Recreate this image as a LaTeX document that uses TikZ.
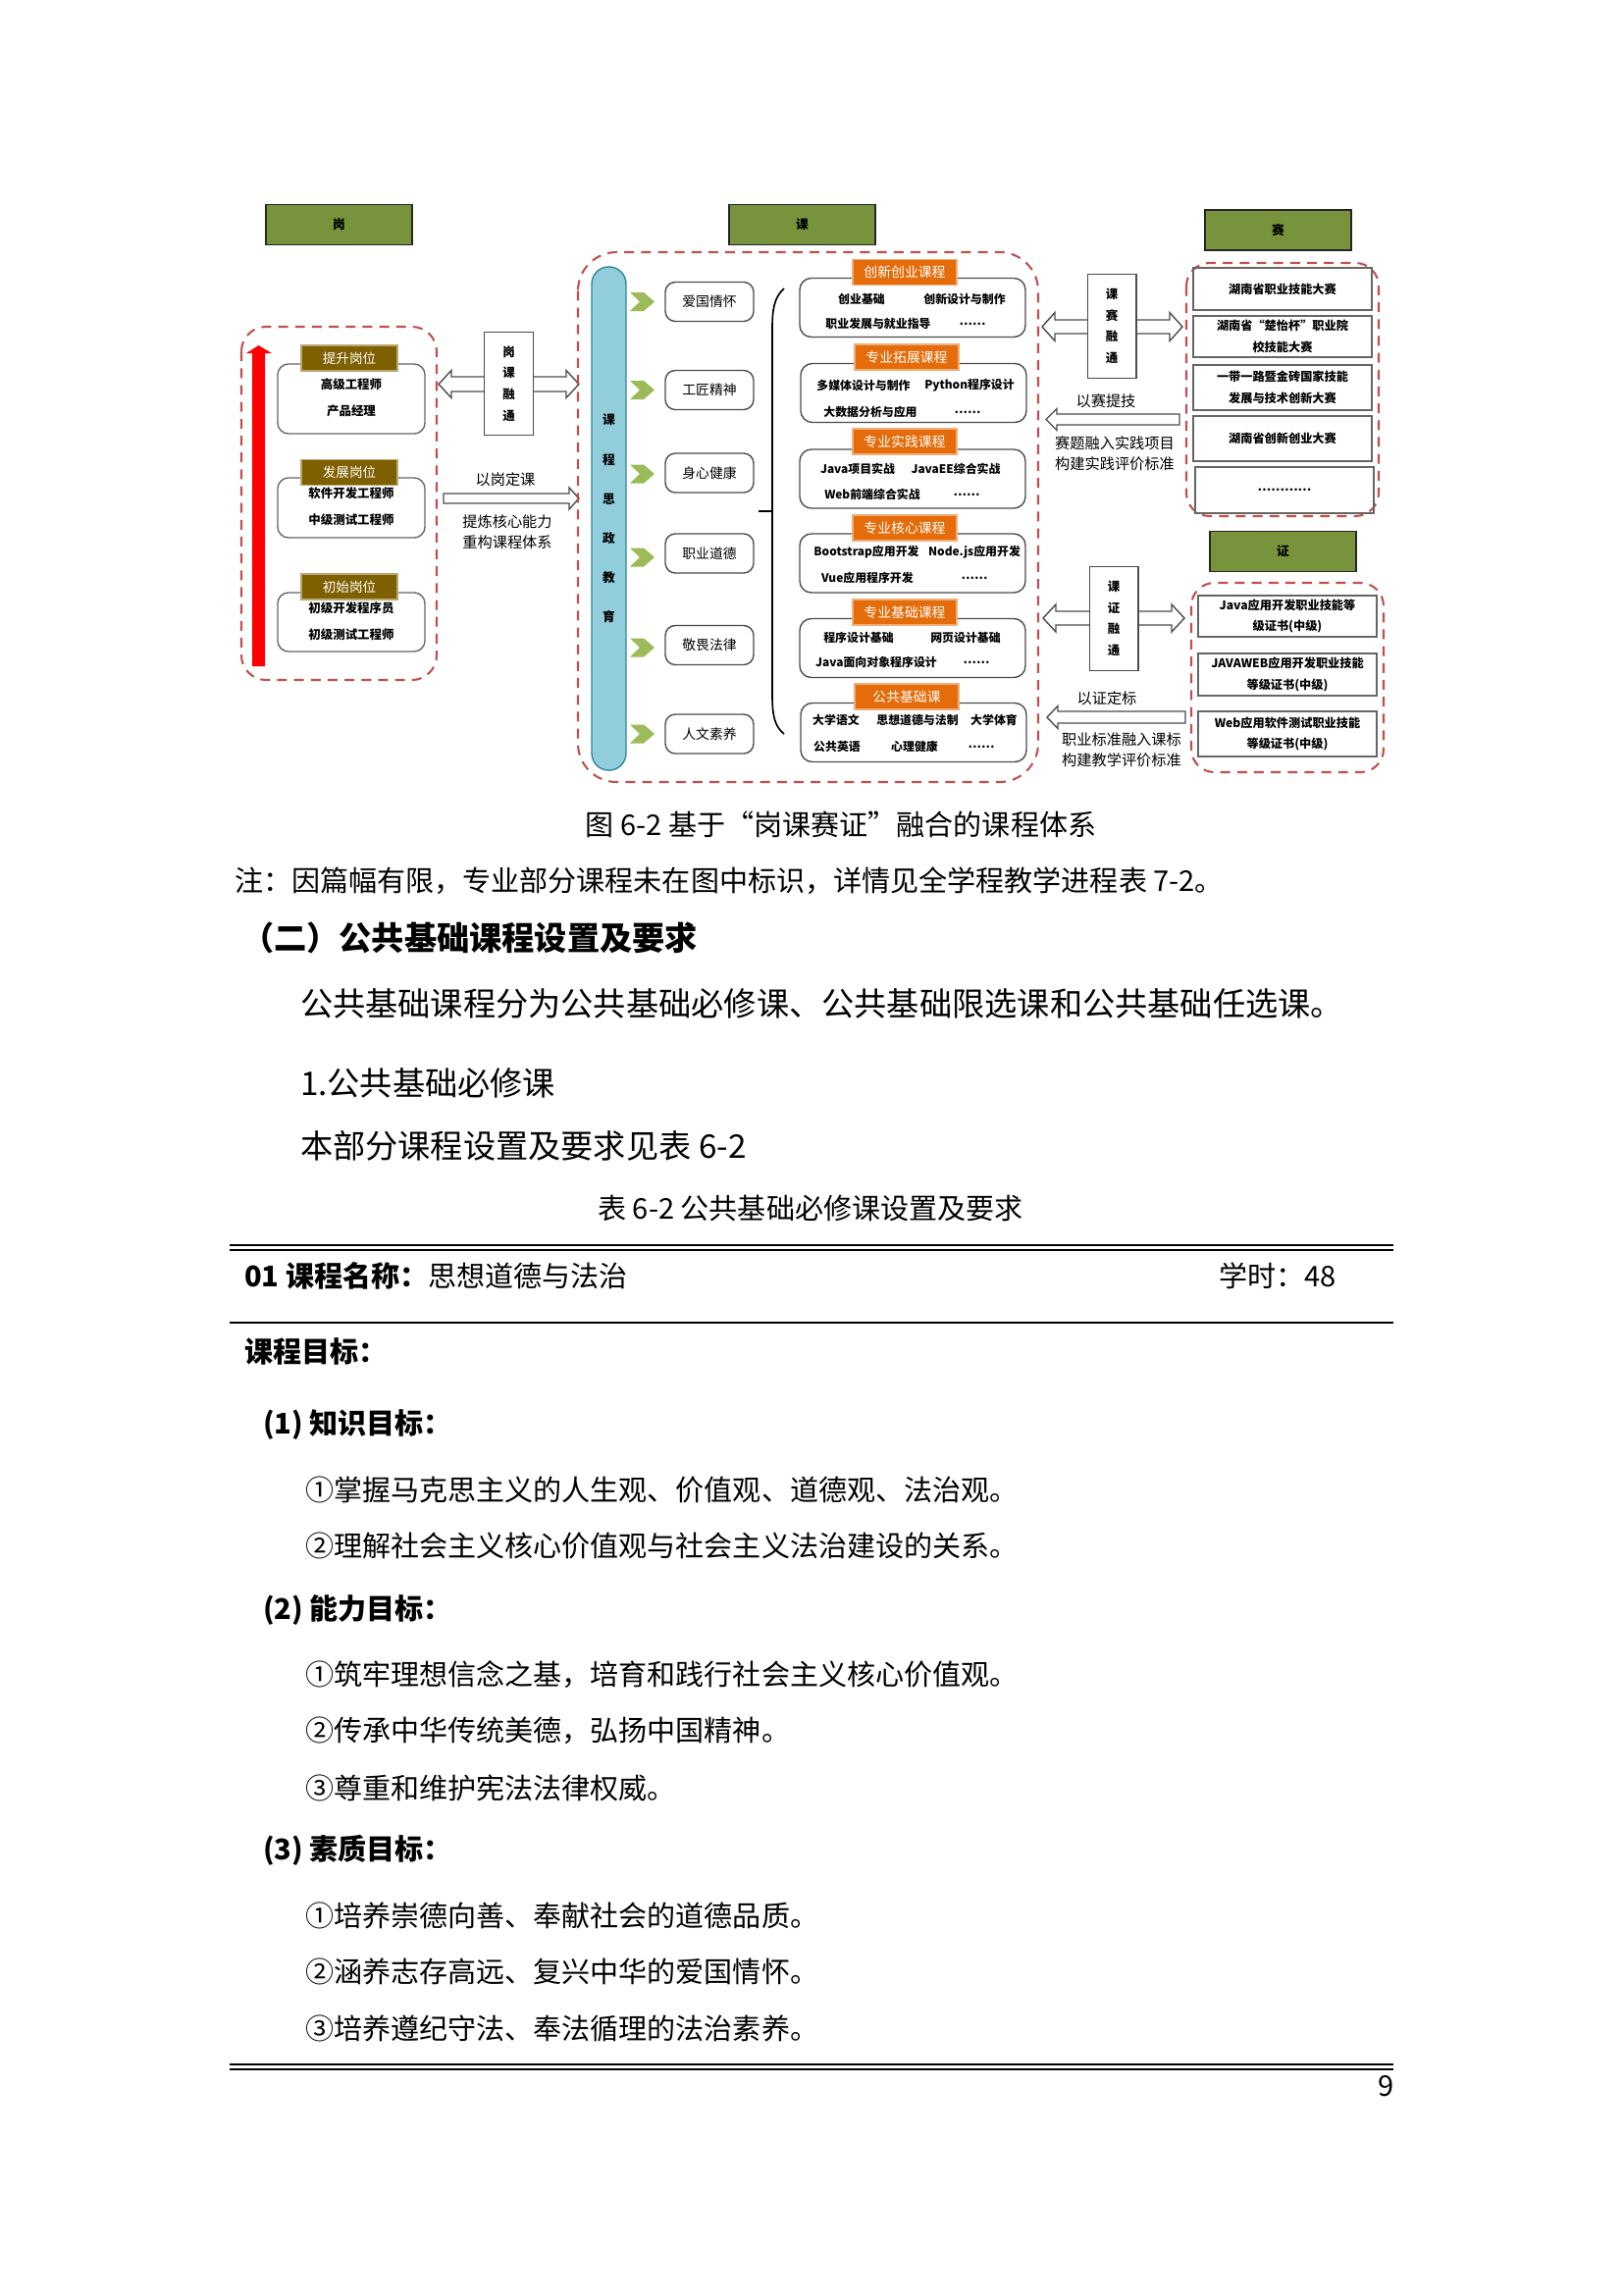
\documentclass[tikz,border=0pt]{standalone}
\usepackage{fontspec}
\setmainfont{Noto Sans CJK SC}

\definecolor{hdrgreen}{HTML}{77933C}
\definecolor{tagbrown}{HTML}{7F6000}
\definecolor{tagorange}{HTML}{E46C0A}
\definecolor{dashred}{HTML}{C0504D}
\definecolor{pillblue}{HTML}{92CDDC}
\definecolor{pillline}{HTML}{31859C}
\definecolor{chevgreen}{HTML}{9BBB59}

\begin{document}
\begin{tikzpicture}[x=0.126965mm,y=-0.126965mm,
  every node/.style={inner sep=0pt,outer sep=0pt},
  hdr/.style={draw=black!85,fill=hdrgreen,line width=0.5pt,minimum width=18.92mm,minimum height=5.2mm,font=\fontsize{4.6}{5}\selectfont\bfseries},
  dashbox/.style={draw=dashred,line width=0.75pt,dash pattern=on 3.6pt off 2.6pt},
  posbox/.style={draw=black!60,line width=0.5pt,rounded corners=1.4mm,minimum width=19.05mm,align=center,text depth=1.2pt,font=\fontsize{4.5}{9.7}\selectfont\bfseries},
  postag/.style={draw=tagbrown!55,fill=tagbrown,text=white,minimum width=12.45mm,minimum height=3.3mm,font=\fontsize{4.9}{5}\selectfont},
  crossbox/.style={draw=black!70,fill=white,line width=0.5pt,minimum width=6.3mm,minimum height=13.4mm,align=center,font=\fontsize{4.5}{7.8}\selectfont\bfseries},
  blockarrow/.style={draw=black!70,fill=white,line width=0.5pt},
  lbl/.style={align=center,font=\fontsize{5.5}{7.6}\selectfont},
  valbox/.style={draw=black!70,line width=0.5pt,rounded corners=1.3mm,minimum width=11.43mm,minimum height=5.08mm,font=\fontsize{5}{5}\selectfont},
  crsbox/.style={draw=black!70,line width=0.5pt,rounded corners=1.5mm,minimum width=29.2mm,minimum height=7.62mm},
  crstag/.style={draw=tagorange!55,fill=tagorange,text=white,minimum width=13.46mm,minimum height=3.3mm,font=\fontsize{5}{5}\selectfont},
  crs/.style={font=\fontsize{4.3}{5}\selectfont\bfseries},
  itembox/.style={draw=black!60,line width=0.5pt,minimum width=23.11mm,align=center,font=\fontsize{4.4}{7.8}\selectfont\bfseries},
  chev/.style={fill=chevgreen},
  body/.style={anchor=west,font=\fontsize{10.5}{12}\selectfont},
  bodyb/.style={anchor=west,font=\fontsize{10.5}{12}\selectfont\bfseries},
  big/.style={anchor=west,font=\fontsize{12}{14}\selectfont}]
\useasboundingbox[fill=white] (0,0) rectangle (1654,2339);

% ---- headers
\node[hdr] (gang) at (345.5,229) {岗};
\node[hdr] (ke) at (817.5,229) {课};
\node[hdr] (sai) at (1302.5,234.5) {赛};
\node[hdr] (zheng) at (1307.5,562) {证};

% ---- left part: positions
\draw[dashbox,rounded corners=3.2mm] (246,333) rectangle (445,693);
\fill[red] (257,679) -- (257,360) -- (251,360) -- (263.5,352) -- (277,360) -- (270,360) -- (270,679) -- cycle;
\node[posbox,minimum height=9.02mm] (p1) at (358,406.5) {高级工程师\\产品经理};
\node[postag] (t1) at (356,365) {提升岗位};
\node[posbox,minimum height=7.75mm] (p2) at (358,517.5) {软件开发工程师\\中级测试工程师};
\node[postag] (t2) at (356,481.5) {发展岗位};
\node[posbox,minimum height=7.62mm] (p3) at (358,634) {初级开发程序员\\初级测试工程师};
\node[postag] (t3) at (356,598) {初始岗位};

\draw[blockarrow] (447,391.5) -- (460,377.5) -- (460,384) -- (577,384) -- (577,377.5) -- (590,391.5) -- (577,405.5) -- (577,399) -- (460,399) -- (460,405.5) -- cycle;
\node[crossbox] (gk) at (518.5,391) {岗\\课\\融\\通};
\node[lbl] (gkt) at (515,489) {以岗定课};
\draw[blockarrow] (452,503) -- (580,503) -- (580,497) -- (590,508) -- (580,519) -- (580,513) -- (452,513) -- cycle;
\node[lbl] (gkb) at (517,542.5) {提炼核心能力\\重构课程体系};

% ---- middle part: courses
\draw[dashbox,rounded corners=5mm] (589,257) rectangle (1058,797);
\node[draw=pillline,fill=pillblue,line width=0.5pt,rounded corners=2.2mm,minimum width=4.44mm,minimum height=65.15mm,align=center,font=\fontsize{4.6}{14.5}\selectfont\bfseries] (pill) at (620.5,528.5) {课\\程\\思\\政\\教\\育};

\fill[chev] (642,298) -- (656,298) -- (667,307.5) -- (656,317) -- (642,317) -- (652,307.5) -- cycle;
\fill[chev] (642,388) -- (656,388) -- (667,397.5) -- (656,407) -- (642,407) -- (652,397.5) -- cycle;
\fill[chev] (642,473.5) -- (656,473.5) -- (667,483) -- (656,492.5) -- (642,492.5) -- (652,483) -- cycle;
\fill[chev] (642,558.5) -- (656,558.5) -- (667,568) -- (656,577.5) -- (642,577.5) -- (652,568) -- cycle;
\fill[chev] (642,650.5) -- (656,650.5) -- (667,660) -- (656,669.5) -- (642,669.5) -- (652,660) -- cycle;
\fill[chev] (642,738.5) -- (656,738.5) -- (667,748) -- (656,757.5) -- (642,757.5) -- (652,748) -- cycle;

\node[valbox] (v1) at (723,307.5) {爱国情怀};
\node[valbox] (v2) at (723,397.5) {工匠精神};
\node[valbox] (v3) at (723,482) {身心健康};
\node[valbox] (v4) at (723,564) {职业道德};
\node[valbox] (v5) at (723,657.5) {敬畏法律};
\node[valbox] (v6) at (723,748) {人文素养};

\draw[line width=0.6pt] (799,294) .. controls (789,303) and (787,315) .. (787,335) -- (787,708) .. controls (787,728) and (789,740) .. (799,748);
\draw[line width=0.9pt] (773,521) -- (787,521);

\node[crsbox] (c1) at (930,313.5) {};
\node[crstag] (k1) at (922,277.5) {创新创业课程};
\node[crs] at (878,305) {创业基础};
\node[crs] at (983,305) {创新设计与制作};
\node[crs] at (895,330) {职业发展与就业指导};
\node[crs] at (991,330) {……};

\node[crsbox] (c2) at (931,400.5) {};
\node[crstag] (k2) at (924,364) {专业拓展课程};
\node[crs] at (880,393) {多媒体设计与制作};
\node[crs] at (988,393) {Python程序设计};
\node[crs] at (887,420) {大数据分析与应用};
\node[crs] at (986,420) {……};

\node[crsbox] (c3) at (930,488) {};
\node[crstag] (k3) at (922,450) {专业实践课程};
\node[crs] at (874,478) {Java项目实战};
\node[crs] at (974,478) {JavaEE综合实战};
\node[crs] at (889,504) {Web前端综合实战};
\node[crs] at (985,504) {……};

\node[crsbox] (c4) at (930,574) {};
\node[crstag] (k4) at (922,538) {专业核心课程};
\node[crs] at (883,563) {Bootstrap应用开发};
\node[crs] at (993,563) {Node.js应用开发};
\node[crs] at (884,589) {Vue应用程序开发};
\node[crs] at (993,589) {……};

\node[crsbox] (c5) at (930,660.5) {};
\node[crstag] (k5) at (922,624) {专业基础课程};
\node[crs] at (875,650) {程序设计基础};
\node[crs] at (984,650) {网页设计基础};
\node[crs] at (893,675) {Java面向对象程序设计};
\node[crs] at (995,675) {……};

\node[crsbox] (c6) at (931,746.5) {};
\node[crstag] (k6) at (924,710) {公共基础课};
\node[crs] at (852,734) {大学语文};
\node[crs] at (935,734) {思想道德与法制};
\node[crs] at (1013,734) {大学体育};
\node[crs] at (853,761) {公共英语};
\node[crs] at (932,761) {心理健康};
\node[crs] at (1000,761) {……};

% ---- right part: competitions
\draw[blockarrow] (1062,333) -- (1075,318.5) -- (1075,326) -- (1192,326) -- (1192,318.5) -- (1205,333) -- (1192,347.5) -- (1192,340) -- (1075,340) -- (1075,347.5) -- cycle;
\node[crossbox] (ks) at (1133,332.5) {课\\赛\\融\\通};
\node[lbl] (kst) at (1127,409) {以赛提技};
\draw[blockarrow] (1066,427.5) -- (1077,416.5) -- (1077,422) -- (1202,422) -- (1202,433) -- (1077,433) -- (1077,438.5) -- cycle;
\node[lbl] (ksb) at (1136,462.5) {赛题融入实践项目\\构建实践评价标准};

\draw[dashbox,rounded corners=3mm] (1209,268) rectangle (1405,526);
\node[itembox,minimum height=5.46mm] (s1) at (1307,294.5) {湖南省职业技能大赛};
\node[itembox,minimum height=5.33mm] (s2) at (1307,343) {湖南省“楚怡杯”职业院\\校技能大赛};
\node[itembox,minimum height=5.84mm] (s3) at (1307,395) {一带一路暨金砖国家技能\\发展与技术创新大赛};
\node[itembox,minimum height=5.84mm] (s4) at (1307,447) {湖南省创新创业大赛};
\node[itembox,minimum height=5.97mm] (s5) at (1309,499.5) {…………};

% ---- right part: certificates
\draw[blockarrow] (1063,630) -- (1076,616) -- (1076,623) -- (1194,623) -- (1194,616) -- (1207,630) -- (1194,644) -- (1194,637) -- (1076,637) -- (1076,644) -- cycle;
\node[crossbox] (kz) at (1135,630.5) {课\\证\\融\\通};
\node[lbl] (kzt) at (1128,712) {以证定标};
\draw[blockarrow] (1067,731) -- (1078,719.5) -- (1078,725) -- (1208,725) -- (1208,737) -- (1078,737) -- (1078,742.5) -- cycle;
\node[lbl] (kzb) at (1143,764) {职业标准融入课标\\构建教学评价标准};

\draw[dashbox,rounded corners=3mm] (1214,594) rectangle (1410,787);
\node[itembox,minimum height=5.33mm] (z1) at (1312,628) {Java应用开发职业技能等\\级证书(中级)};
\node[itembox,minimum height=5.46mm] (z2) at (1312,687.5) {JAVAWEB应用开发职业技能\\等级证书(中级)};
\node[itembox,minimum height=5.84mm] (z3) at (1312,748) {Web应用软件测试职业技能\\等级证书(中级)};

% ---- page text
\node[font=\fontsize{10.5}{12}\selectfont] (cap) at (857,840) {图 6-2 基于“岗课赛证”融合的课程体系};
\node[body] (note) at (239,898) {注：因篇幅有限，专业部分课程未在图中标识，详情见全学程教学进程表 7-2。};
\node[big,font=\fontsize{12}{14}\selectfont\bfseries] (sec) at (246,956) {（二）公共基础课程设置及要求};
\node[big] (para) at (306,1023) {公共基础课程分为公共基础必修课、公共基础限选课和公共基础任选课。};
\node[big] (sub) at (306,1104) {1.公共基础必修课};
\node[big] (ref) at (306,1168) {本部分课程设置及要求见表 6-2};
\node[font=\fontsize{10.5}{12}\selectfont] (tcap) at (826,1231) {表 6-2 公共基础必修课设置及要求};

\draw[line width=0.7pt] (234,1269) -- (1420,1269);
\draw[line width=0.9pt] (234,1274) -- (1420,1274);
\node[body] (cname) at (249,1300) {\textbf{01 课程名称：}思想道德与法治};
\node[body] (hours) at (1242,1300) {学时：48};
\draw[line width=0.85pt] (234,1348) -- (1420,1348);
\node[bodyb] (goal) at (249,1377) {课程目标：};
\node[bodyb] (g1) at (268,1452) {(1) 知识目标：};
\node[body] (g1a) at (311,1518) {①掌握马克思主义的人生观、价值观、道德观、法治观。};
\node[body] (g1b) at (311,1575) {②理解社会主义核心价值观与社会主义法治建设的关系。};
\node[bodyb] (g2) at (268,1641) {(2) 能力目标：};
\node[body] (g2a) at (311,1707) {①筑牢理想信念之基，培育和践行社会主义核心价值观。};
\node[body] (g2b) at (311,1764) {②传承中华传统美德，弘扬中国精神。};
\node[body] (g2c) at (311,1822) {③尊重和维护宪法法律权威。};
\node[bodyb] (g3) at (268,1886) {(3) 素质目标：};
\node[body] (g3a) at (311,1952) {①培养崇德向善、奉献社会的道德品质。};
\node[body] (g3b) at (311,2009) {②涵养志存高远、复兴中华的爱国情怀。};
\node[body] (g3c) at (311,2067) {③培养遵纪守法、奉法循理的法治素养。};
\draw[line width=1pt] (234,2104) -- (1420,2104);
\draw[line width=0.6pt] (234,2109) -- (1420,2109);
\node[font=\fontsize{10.5}{12}\selectfont] (pg) at (1413,2126) {9};
\end{tikzpicture}
\end{document}
